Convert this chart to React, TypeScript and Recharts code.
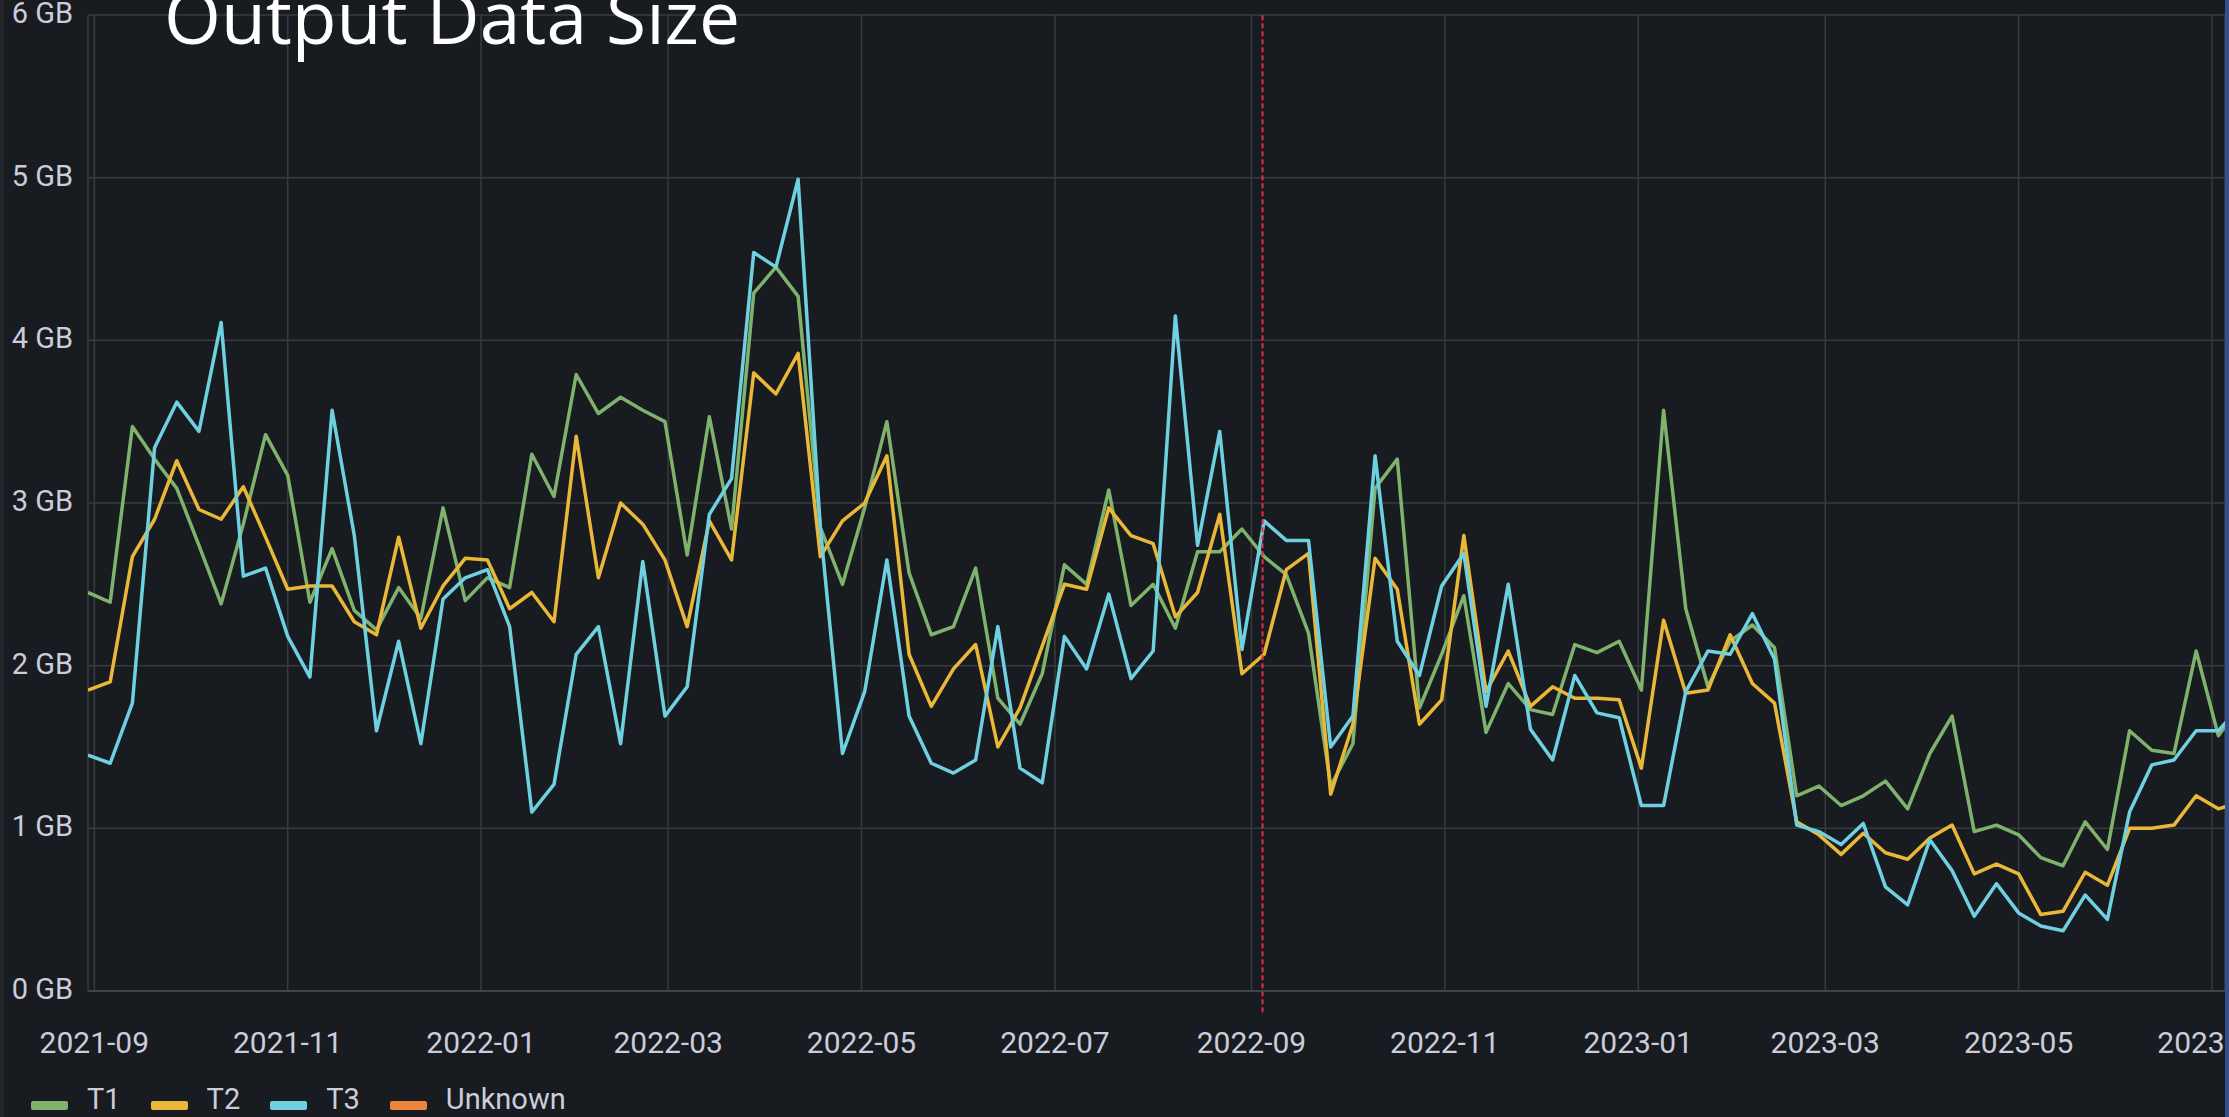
import React from 'react';
import { LineChart, Line, XAxis, YAxis, CartesianGrid, ReferenceLine } from 'recharts';

// ---- data ----
const START_DATE = '2021-08-30'; // first weekly sample (Mondays)

const T1 = [
  2.45, 2.39, 3.47, 3.27, 3.09, 2.74, 2.38, 2.87, 3.42, 3.17,
  2.39, 2.72, 2.34, 2.22, 2.48, 2.29, 2.97, 2.40, 2.54, 2.48,
  3.30, 3.04, 3.79, 3.55, 3.65, 3.57, 3.50, 2.68, 3.53, 2.84,
  4.29, 4.45, 4.27, 2.85, 2.50, 2.97, 3.50, 2.57, 2.19, 2.24,
  2.60, 1.80, 1.64, 1.95, 2.62, 2.50, 3.08, 2.37, 2.50, 2.23,
  2.70, 2.70, 2.84, 2.67, 2.56, 2.20, 1.26, 1.52, 3.09, 3.27,
  1.74, 2.07, 2.43, 1.59, 1.89, 1.73, 1.70, 2.13, 2.08, 2.15,
  1.85, 3.57, 2.35, 1.87, 2.15, 2.25, 2.11, 1.20, 1.26, 1.14,
  1.20, 1.29, 1.12, 1.46, 1.69, 0.98, 1.02, 0.96, 0.82, 0.77,
  1.04, 0.87, 1.60, 1.48, 1.46, 2.09, 1.57, 1.75,
];

const T2 = [
  1.85, 1.90, 2.67, 2.90, 3.26, 2.96, 2.90, 3.10, 2.79, 2.47,
  2.49, 2.49, 2.27, 2.19, 2.79, 2.23, 2.49, 2.66, 2.65, 2.35,
  2.45, 2.27, 3.41, 2.54, 3.00, 2.87, 2.65, 2.24, 2.89, 2.65,
  3.80, 3.67, 3.92, 2.67, 2.89, 3.00, 3.29, 2.07, 1.75, 1.98,
  2.13, 1.50, 1.74, 2.12, 2.50, 2.47, 2.97, 2.80, 2.75, 2.30,
  2.45, 2.93, 1.95, 2.07, 2.59, 2.69, 1.21, 1.64, 2.66, 2.47,
  1.64, 1.79, 2.80, 1.84, 2.09, 1.75, 1.87, 1.80, 1.80, 1.79,
  1.37, 2.28, 1.83, 1.85, 2.19, 1.89, 1.77, 1.04, 0.96, 0.84,
  0.97, 0.85, 0.81, 0.94, 1.02, 0.72, 0.78, 0.72, 0.47, 0.49,
  0.73, 0.65, 1.00, 1.00, 1.02, 1.20, 1.12, 1.16,
];

const T3 = [
  1.45, 1.40, 1.77, 3.34, 3.62, 3.44, 4.11, 2.55, 2.60, 2.18,
  1.93, 3.57, 2.80, 1.60, 2.15, 1.52, 2.41, 2.54, 2.59, 2.24,
  1.10, 1.27, 2.07, 2.24, 1.52, 2.64, 1.69, 1.87, 2.93, 3.15,
  4.54, 4.45, 4.99, 2.85, 1.46, 1.84, 2.65, 1.69, 1.40, 1.34,
  1.42, 2.24, 1.37, 1.28, 2.18, 1.98, 2.44, 1.92, 2.09, 4.15,
  2.74, 3.44, 2.10, 2.89, 2.77, 2.77, 1.50, 1.69, 3.29, 2.15,
  1.94, 2.49, 2.69, 1.75, 2.50, 1.61, 1.42, 1.94, 1.71, 1.68,
  1.14, 1.14, 1.84, 2.09, 2.07, 2.32, 2.04, 1.02, 0.98, 0.90,
  1.03, 0.64, 0.53, 0.93, 0.74, 0.46, 0.66, 0.48, 0.40, 0.37,
  0.59, 0.44, 1.10, 1.39, 1.42, 1.60, 1.60, 1.75,
];

const X_TICK_LABELS = [
  '2021-09', '2021-11', '2022-01', '2022-03', '2022-05', '2022-07',
  '2022-09', '2022-11', '2023-01', '2023-03', '2023-05', '2023-07',
];
const Y_TICKS = [0, 1, 2, 3, 4, 5, 6];
const ANNOTATION_TIME = '2022-09-04T12:00:00Z';
const TITLE = 'Output Data Size';

const SERIES = [
  { key: 'T1', color: '#7EB26D', values: T1 },
  { key: 'T2', color: '#EAB839', values: T2 },
  { key: 'T3', color: '#6ED0E0', values: T3 },
  { key: 'Unknown', color: '#EF843C', values: [] as number[] },
];

// ---- derived ----
const DAY = 86400000;
const t0 = Date.parse(START_DATE + 'T00:00:00Z');
const data = T1.map((_, i) => {
  const row: Record<string, number> = { t: t0 + i * 7 * DAY };
  SERIES.forEach((s) => {
    if (s.values[i] !== undefined) row[s.key] = s.values[i];
  });
  return row;
});
const xTicks = X_TICK_LABELS.map((l) => {
  const [y, m] = l.split('-').map(Number);
  return Date.UTC(y, m - 1, 1);
});
const tickLabelByTime: Record<number, string> = {};
xTicks.forEach((t, i) => (tickLabelByTime[t] = X_TICK_LABELS[i]));
const xDomain: [number, number] = [t0, t0 + 674.1 * DAY];
const annotationT = Date.parse(ANNOTATION_TIME);

const TEXT_COLOR = '#ccccdc';
const GRID_COLOR = '#383b40';
const BG = '#181b1f';

const XTick = (props: any) => {
  const { x, y, payload } = props;
  return (
    <text x={x} y={y + 62} textAnchor="middle" fill={TEXT_COLOR} fontSize={30} fontFamily="Roboto">
      {tickLabelByTime[payload.value] ?? ''}
    </text>
  );
};

const YTick = (props: any) => {
  const { x, y, payload } = props;
  return (
    <text x={x} y={y + 8} textAnchor="end" fill={TEXT_COLOR} fontSize={29} fontFamily="Roboto">
      {`${payload.value} GB`}
    </text>
  );
};

export default function App() {
  return (
    <div
      style={{
        position: 'absolute',
        left: 0,
        top: 0,
        width: 2229,
        height: 1117,
        overflow: 'hidden',
        background: BG,
      }}
    >
      <LineChart
        width={2225}
        height={1117}
        data={data}
        margin={{ top: 15, right: 0, bottom: 0, left: 0 }}
      >
        <CartesianGrid stroke={GRID_COLOR} strokeWidth={1.5} />
        <XAxis
          dataKey="t"
          type="number"
          domain={xDomain}
          allowDataOverflow
          ticks={xTicks}
          interval={0}
          height={126}
          tickSize={0}
          tickMargin={0}
          tickLine={false}
          axisLine={{ stroke: '#414449', strokeWidth: 2 }}
          tick={<XTick />}
        />
        <YAxis
          width={88}
          domain={[0, 6]}
          ticks={Y_TICKS}
          interval={0}
          tickSize={0}
          tickMargin={15}
          tickLine={false}
          axisLine={false}
          tick={<YTick />}
        />
        {SERIES.filter((s) => s.values.length > 0).map((s) => (
          <Line
            key={s.key}
            type="linear"
            dataKey={s.key}
            stroke={s.color}
            strokeWidth={3.5}
            strokeLinejoin="round"
            dot={false}
            activeDot={false}
            isAnimationActive={false}
          />
        ))}
        <ReferenceLine
          segment={[
            { x: annotationT, y: -0.13 },
            { x: annotationT, y: 6 },
          ]}
          ifOverflow="visible"
          stroke="#e0304a"
          strokeWidth={2}
          strokeDasharray="5 3"
        />
      </LineChart>

      {/* title */}
      <svg width={2229} height={120} style={{ position: 'absolute', left: 0, top: 0 }}>
        <text
          x={164}
          y={44}
          fontSize={74}
          fontFamily="Open Sans"
          fill="#ffffff"
          textLength={576}
          lengthAdjust="spacingAndGlyphs"
        >
          {TITLE}
        </text>
      </svg>

      {/* legend */}
      <div
        style={{
          position: 'absolute',
          left: 31,
          top: 1085,
          height: 29,
          display: 'flex',
          alignItems: 'center',
          fontFamily: 'Roboto',
          fontSize: 29,
          lineHeight: '29px',
          color: TEXT_COLOR,
        }}
      >
        {SERIES.map((s) => (
          <div key={s.key} style={{ display: 'flex', alignItems: 'center', marginRight: 30 }}>
            <span
              style={{
                display: 'inline-block',
                width: 37,
                height: 9,
                borderRadius: 2,
                background: s.color,
                marginRight: 19,
                position: 'relative',
                top: 6,
              }}
            />
            <span>{s.key}</span>
          </div>
        ))}
      </div>

      {/* panel edges */}
      <div style={{ position: 'absolute', left: 0, top: 0, width: 4, height: 1117, background: '#22252a' }} />
      <div style={{ position: 'absolute', left: 2225, top: 0, width: 4, height: 1117, background: '#34508c' }} />
    </div>
  );
}
